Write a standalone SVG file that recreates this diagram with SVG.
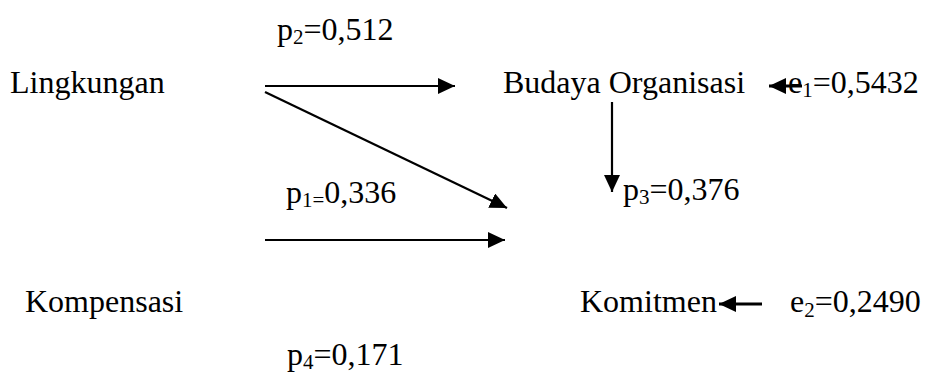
<svg xmlns="http://www.w3.org/2000/svg" width="925" height="374" viewBox="0 0 925 374">
<style>
text{font-family:"Liberation Serif","Times New Roman",serif;font-size:32px;fill:#000}
.sub{font-size:21px}
.ln{stroke:#000;stroke-width:2.2;fill:none}
.bold{stroke-width:3.2}
</style>
<defs>
<marker id="ah" markerUnits="userSpaceOnUse" markerWidth="18" markerHeight="16" refX="17" refY="8" orient="auto">
<path d="M0,0 L17,8 L0,16 Z" fill="#000"/>
</marker>
</defs>
<rect width="925" height="374" fill="#fff"/>
<g id="node-lingkungan"><text x="10" y="93">Lingkungan</text></g>
<g id="node-kompensasi"><text x="25" y="312">Kompensasi</text></g>
<g id="node-budaya"><text x="503" y="93">Budaya Organisasi</text></g>
<g id="node-komitmen"><text x="580" y="312">Komitmen</text></g>
<g id="node-e1"><text x="788" y="93">e<tspan class="sub" dy="4">1</tspan><tspan dy="-4">=0,5432</tspan></text></g>
<g id="node-e2"><text x="790" y="312">e<tspan class="sub" dy="5">2</tspan><tspan dy="-5">=0,2490</tspan></text></g>
<g id="connectors">
<line class="ln" x1="265" y1="86" x2="455" y2="86" marker-end="url(#ah)"/>
<line class="ln" x1="265" y1="92" x2="507" y2="208" marker-end="url(#ah)"/>
<line class="ln" x1="265" y1="240" x2="505" y2="240" marker-end="url(#ah)"/>
<line class="ln" x1="612" y1="102" x2="612" y2="192" marker-end="url(#ah)"/>
<line class="ln bold" x1="802" y1="86" x2="769" y2="86" marker-end="url(#ah)"/>
<line class="ln bold" x1="762" y1="304" x2="719" y2="304" marker-end="url(#ah)"/>
</g>
<g id="labels">
<text x="277" y="40">p<tspan class="sub" dy="4">2</tspan><tspan dy="-4">=0,512</tspan></text>
<text x="286" y="203">p<tspan class="sub" dy="4">1=</tspan><tspan dy="-4">0,336</tspan></text>
<text x="623" y="200">p<tspan class="sub" dy="4">3</tspan><tspan dy="-4">=0,376</tspan></text>
<text x="287" y="365">p<tspan class="sub" dy="4">4</tspan><tspan dy="-4">=0,171</tspan></text>
</g>
</svg>
